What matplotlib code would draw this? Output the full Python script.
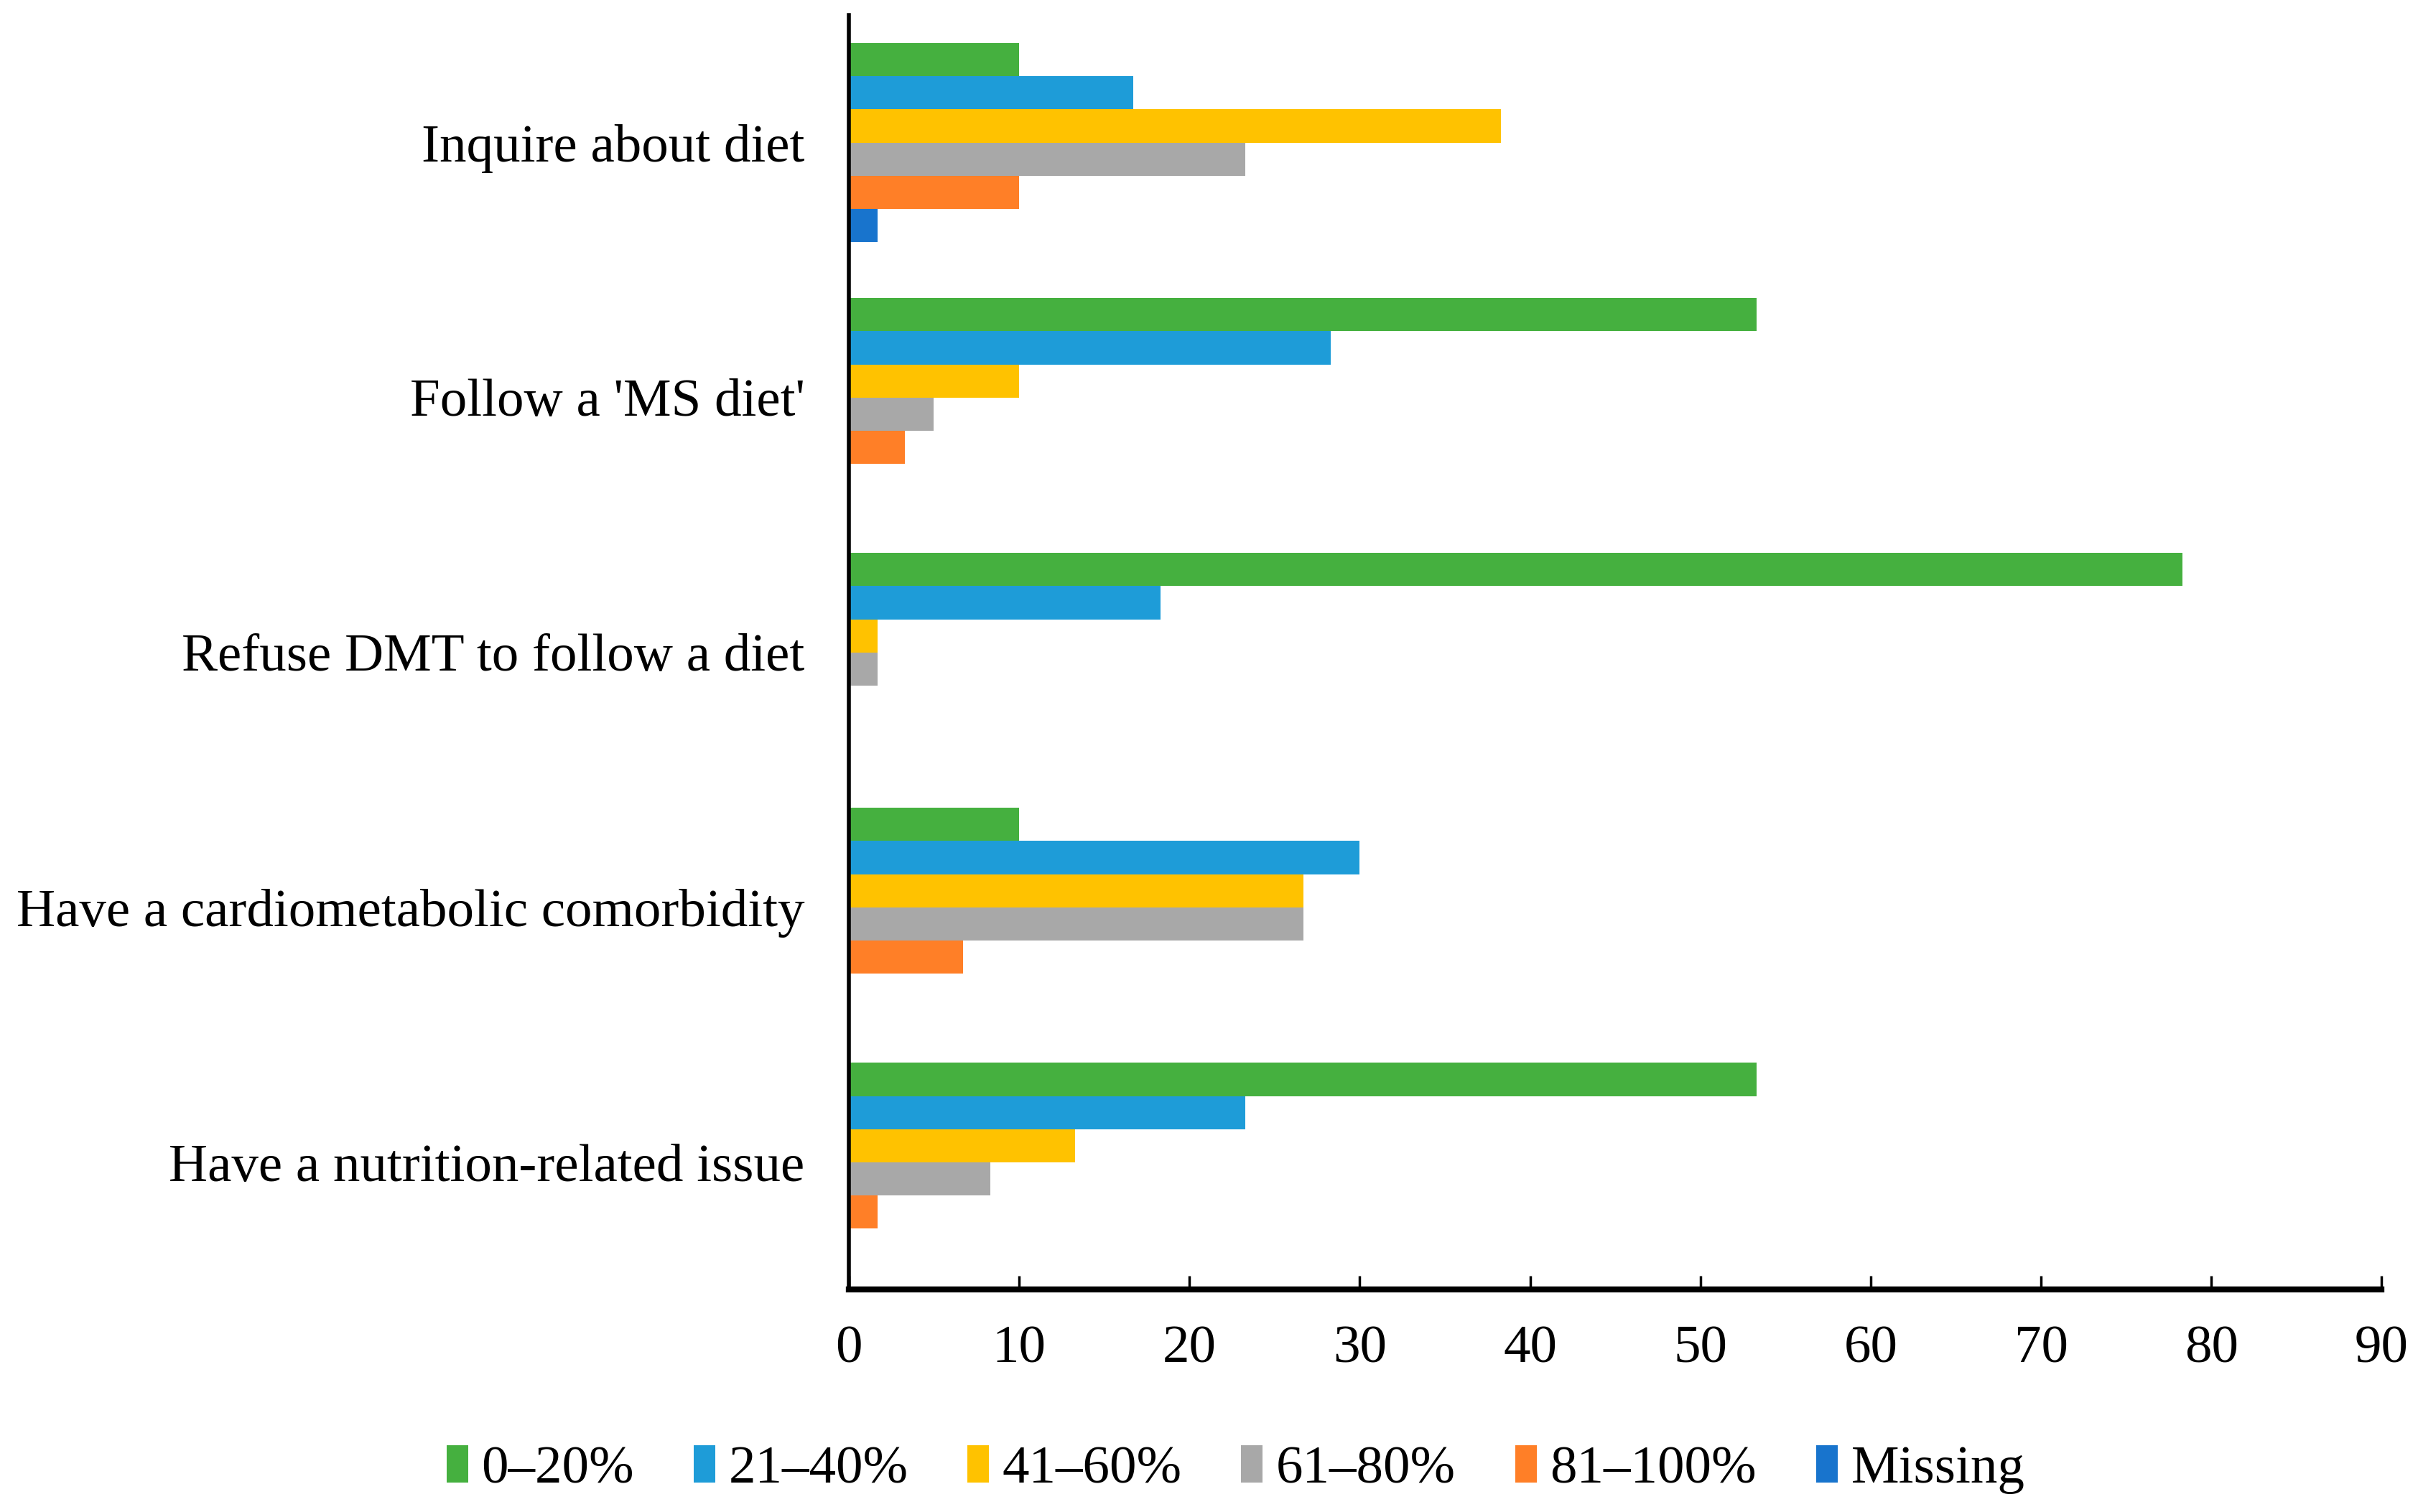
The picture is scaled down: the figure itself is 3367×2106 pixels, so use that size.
import numpy as np
import matplotlib
matplotlib.use("Agg")
import matplotlib.pyplot as plt

plt.rcParams['font.family'] = ['Liberation Serif', 'DejaVu Serif']

# --- data (percent of respondents) ---
categories = ["Inquire about diet", "Follow a 'MS diet'", "Refuse DMT to follow a diet",
              "Have a cardiometabolic comorbidity", "Have a nutrition-related issue"]
series_names = ["0\u201320%", "21\u201340%", "41\u201360%", "61\u201380%", "81\u2013100%", "Missing"]
vals_0_20 = [10.0, 53.3, 78.3, 10.0, 53.3]
vals_21_40 = [16.7, 28.3, 18.3, 30.0, 23.3]
vals_41_60 = [38.3, 10.0, 1.7, 26.7, 13.3]
vals_61_80 = [23.3, 5.0, 1.7, 26.7, 8.3]
vals_81_100 = [10.0, 3.3, 0.0, 6.7, 1.7]
vals_missing = [1.7, 0.0, 0.0, 0.0, 0.0]
colors = ["#45B03F", "#1E9CD8", "#FFC200", "#A8A8A8", "#FF7F27", "#1874CD"]

all_vals = [vals_0_20, vals_21_40, vals_41_60, vals_61_80, vals_81_100, vals_missing]

fig = plt.figure(figsize=(33.67, 21.06), dpi=100)
ax = fig.add_axes([0.351, 0.147, 0.634, 0.843])

n = len(categories)
ypos = np.arange(n)[::-1]  # first category at the top
h = 0.13
for i, (name, vals, c) in enumerate(zip(series_names, all_vals, colors)):
    ax.barh(ypos + (2.5 - i) * h, vals, height=h, color=c, label=name)

ax.set_xlim(0, 90)
ax.set_ylim(-0.5, 4.5)
ax.set_xticks(np.arange(0, 91, 10))
ax.set_yticks(ypos)
ax.set_yticklabels(categories)

ax.spines['top'].set_visible(False)
ax.spines['right'].set_visible(False)
ax.spines['left'].set_linewidth(4)
ax.spines['bottom'].set_linewidth(6)

fs = 54
ax.tick_params(axis='x', direction='in', length=14, width=2.5, labelsize=fs, pad=36)
ax.tick_params(axis='y', length=0, labelsize=fs, pad=44)

ax.legend(loc='center', bbox_to_anchor=(0.511, 0.028), bbox_transform=fig.transFigure,
          ncol=6, frameon=False, fontsize=fs, handlelength=0.4, handleheight=0.7,
          handletextpad=0.25, columnspacing=1.1)

plt.savefig("out.png", dpi=100)
plt.close()
